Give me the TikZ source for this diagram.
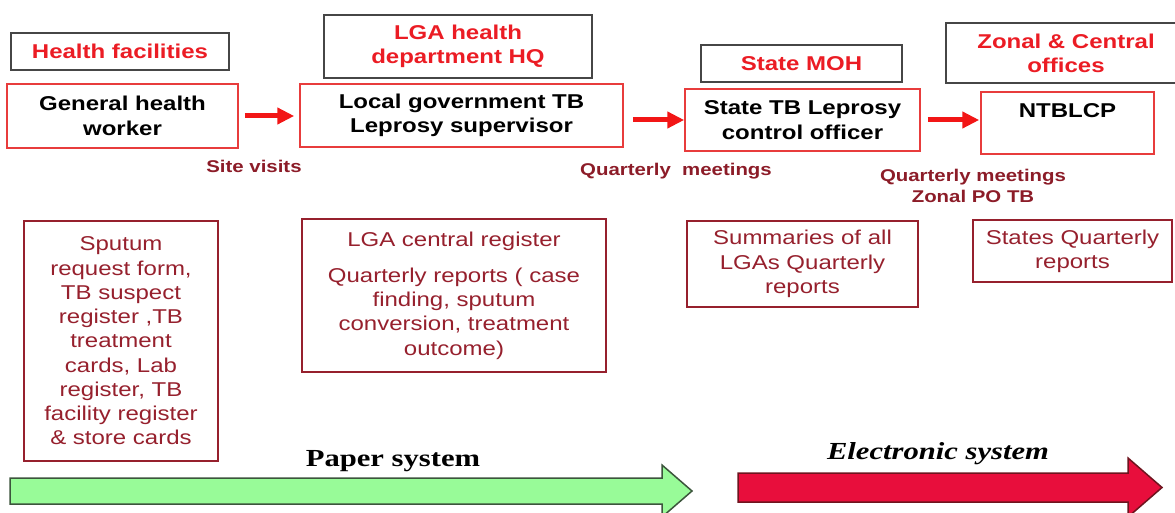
\documentclass[tikz,border=0pt]{standalone}
\usepackage{fontspec}
\setmainfont{Liberation Sans}[FakeStretch=1.2]
\newfontfamily\paperfont{Liberation Serif}[FakeStretch=1.25]
\usetikzlibrary{arrows.meta}
\definecolor{hdred}{RGB}{235,28,36}
\definecolor{framegray}{RGB}{70,70,70}
\definecolor{postred}{RGB}{232,60,60}
\definecolor{recred}{RGB}{150,32,45}
\definecolor{lblred}{RGB}{140,28,40}
\definecolor{flowred}{RGB}{242,22,22}
\definecolor{papergreen}{RGB}{152,251,152}
\definecolor{papergray}{RGB}{60,85,60}
\definecolor{elecred}{RGB}{232,14,60}
\definecolor{elecdark}{RGB}{110,20,30}
\tikzset{
	level/.style={draw=framegray, line width=2pt, inner sep=0pt, align=center, text=hdred, font=\fontsize{20}{24}\selectfont\bfseries},
	post/.style={draw=postred, line width=1.5pt, inner sep=0pt, align=center, text=black, font=\fontsize{20}{24.5}\selectfont\bfseries},
	record/.style={draw=recred, line width=1.5pt, inner sep=0pt, align=center, text=recred, font=\fontsize{20}{24.25}\selectfont},
	channel/.style={inner sep=0pt, align=center, text=lblred, font=\fontsize{17}{21}\selectfont\bfseries},
	flow/.style={draw=flowred, line width=5pt, -{Triangle[length=17pt,width=16pt]}},
	system/.style={inner sep=0pt, text=black, font=\paperfont\fontsize{24.5}{28}\selectfont\bfseries}
}
\begin{document}
\begin{tikzpicture}[x=1pt, y=-1pt]
	\clip (0,0) rectangle (1175,513);
	
	% levels
	\node[level, minimum width=218pt, minimum height=37pt] (hf) at (120,51.5) {Health facilities};
	\node[level, minimum width=268pt, minimum height=63pt] (lga) at (458,46.5) {LGA health\\department HQ};
	\node[level, minimum width=201pt, minimum height=37pt] (moh) at (801.5,63.5) {State MOH};
	\node[level, minimum width=240pt, minimum height=60pt] (zonal) at (1066,53) {Zonal \& Central\\offices};
	
	% posts
	\node[post, minimum width=231pt, minimum height=64pt] (ghw) at (122.5,116) {General health\\worker};
	\node[post, minimum width=323pt, minimum height=63pt] (lgs) at (461.5,115.5) {Local government TB\\Leprosy supervisor};
	\node[post, minimum width=235pt, minimum height=62pt] (stc) at (802.5,120) {State TB Leprosy\\control officer};
	\node[post, minimum width=173pt, minimum height=62pt] (ntb) at (1067.5,123) {NTBLCP\\~};
	
	\draw[flow, shorten <=6pt, shorten >=5pt] (ghw.east) -- (ghw.east -| lgs.west);
	\draw[flow, shorten <=9pt] (stc.west -| lgs.east) -- (stc.west);
	\draw[flow, shorten <=7pt, shorten >=1pt] (stc.east) -- (stc.east -| ntb.west);
	
	\node[channel] (visits) at (254,166) {Site visits};
	\node[channel] (qm) at (676,171) {Quarterly\ \ meetings};
	\node[channel] (qmz) at (973,186) {Quarterly meetings\\Zonal PO TB};
	
	% records
	\node[record, minimum width=194pt, minimum height=240pt] (rec1) at (121,341) {Sputum\\request form,\\TB suspect\\register ,TB\\treatment\\cards, Lab\\register, TB\\facility register\\\& store cards};
	\node[record, minimum width=304pt, minimum height=153pt] (rec2) at (454,295.5) {LGA central register\\[12pt]Quarterly reports ( case\\finding, sputum\\conversion, treatment\\outcome)};
	\node[record, minimum width=231pt, minimum height=86pt] (rec3) at (802.5,264) {Summaries of all\\LGAs Quarterly\\reports};
	\node[record, minimum width=199pt, minimum height=62pt] (rec4) at (1072.5,251) {States Quarterly\\reports};
	
	% systems
	\filldraw[draw=papergray, fill=papergreen, line width=1.5pt] (10,478) -- (662,478) -- (662,465) -- (692,491) -- (662,517) -- (662,504) -- (10,504) -- cycle;
	\filldraw[draw=elecdark, fill=elecred, line width=1.5pt] (738,473) -- (1128,473) -- (1128,458) -- (1162,487.5) -- (1128,517) -- (1128,502) -- (738,502) -- cycle;
	\node[system] (paper) at (393,461) {Paper system};
	\node[system, font=\paperfont\fontsize{24.5}{28}\selectfont\bfseries\itshape] (elec) at (938,454) {Electronic system};
\end{tikzpicture}
\end{document}
